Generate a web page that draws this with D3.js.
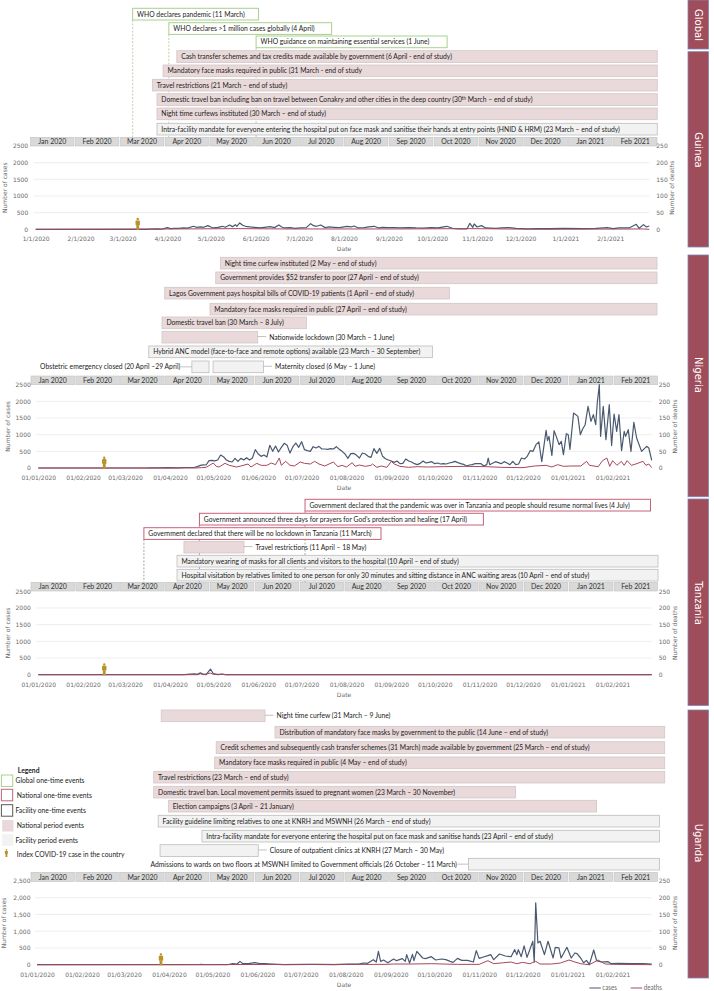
<!DOCTYPE html>
<html><head><meta charset="utf-8">
<script src="https://cdnjs.cloudflare.com/ajax/libs/d3/7.8.5/d3.min.js"></script>
<style>html,body{margin:0;padding:0;background:#fff}svg{display:block}</style>
</head><body><svg id="c" width="714" height="991"></svg>
<script>
const monthLabels=["Jan 2020","Feb 2020","Mar 2020","Apr 2020","May 2020","Jun 2020","Jul 2020","Aug 2020","Sep 2020","Oct 2020","Nov 2020","Dec 2020","Jan 2021","Feb 2021"];
const caseTicks=[0,500,1000,1500,2000,2500];
const deathTicks=[0,50,100,150,200,250];
const sideLabels=["Global","Guinea","Nigeria","Tanzania","Uganda"];
// series: [day since 1 Jan 2020, value]
const guineaCases=[[0,0],[76,0],[80,5],[84,10],[86,5],[88,15],[91,50],[93,20],[96,30],[99,25],[102,40],[105,35],[109,90],[111,60],[114,70],[116,60],[119,110],[121,70],[123,40],[126,60],[129,90],[131,60],[134,130],[136,80],[138,140],[139,90],[141,190],[143,120],[145,90],[148,70],[151,60],[155,40],[158,60],[162,80],[165,50],[168,130],[170,70],[172,40],[176,50],[179,30],[183,40],[187,50],[190,170],[192,110],[194,90],[197,130],[200,50],[203,70],[206,60],[210,50],[215,90],[218,70],[220,100],[223,40],[227,50],[230,70],[234,90],[237,40],[240,60],[243,50],[247,50],[252,40],[258,50],[263,40],[268,35],[273,50],[278,45],[284,90],[288,30],[292,10],[298,10],[300,180],[302,60],[303,160],[305,70],[308,110],[311,40],[318,30],[322,40],[327,50],[332,30],[340,10],[347,20],[355,20],[365,25],[378,20],[387,30],[395,50],[399,20],[403,40],[410,40],[415,150],[417,30],[420,140],[422,70],[424,100]];
const guineaDeaths=[[0,0],[100,1],[140,2],[175,1],[210,1],[250,1],[300,2],[350,0],[420,1],[424,0]];
const nigeriaCases=[[0,0],[74,0],[78,5],[84,5],[90,10],[96,5],[102,15],[108,20],[110,40],[112,80],[114,95],[116,90],[118,220],[120,230],[122,215],[124,240],[126,390],[128,340],[130,240],[132,200],[134,180],[136,290],[138,200],[140,290],[142,240],[144,310],[146,240],[148,300],[150,550],[152,420],[154,350],[156,390],[158,330],[160,680],[162,500],[164,660],[166,480],[168,620],[170,740],[172,680],[174,450],[176,640],[178,750],[180,620],[182,790],[184,550],[186,520],[188,500],[190,640],[192,600],[194,650],[196,570],[198,570],[200,560],[202,580],[204,570],[206,640],[208,560],[210,500],[212,420],[214,290],[216,430],[218,440],[220,380],[222,300],[224,450],[226,420],[228,350],[230,320],[232,580],[234,440],[236,590],[238,350],[240,280],[242,240],[244,210],[246,170],[248,210],[250,130],[252,140],[254,270],[256,210],[258,180],[260,130],[262,100],[264,140],[266,210],[268,150],[270,170],[272,190],[274,130],[276,150],[278,120],[280,130],[282,120],[284,150],[286,170],[288,200],[290,160],[292,130],[294,110],[296,60],[298,90],[300,100],[302,130],[304,130],[306,130],[308,60],[310,100],[311,300],[312,100],[316,190],[318,160],[320,130],[322,190],[324,150],[326,100],[328,200],[330,100],[332,120],[334,300],[336,270],[338,350],[340,520],[342,500],[344,700],[346,780],[348,190],[351,1130],[352,820],[353,950],[355,380],[356.5,1120],[358,950],[360,700],[361.5,800],[363,400],[365,1030],[366.3,1000],[367.5,560],[370,1650],[373,1550],[374.7,1000],[376,1150],[378,1300],[380,1850],[382,1400],[383.7,1600],[385.3,1300],[386.4,1950],[387.8,2500],[388.7,950],[390.5,1850],[392.4,850],[394.7,1900],[396.3,680],[398,1620],[399.8,1100],[401.4,1600],[403.2,520],[405,1100],[406,950],[407.8,1150],[409.7,500],[411.7,1370],[413.6,900],[417,500],[420.5,650],[422,600],[424,230]];
const nigeriaDeaths=[[0,0],[108,0],[113,1],[116,2],[121,15],[123,5],[125,3],[129,14],[132,8],[137,3],[140,6],[145,12],[147,3],[151,14],[154,8],[158,8],[161,15],[164,10],[166.6,30],[168,8],[171,20],[174,8],[177,6],[181,18],[184,14],[188,12],[191,20],[194,12],[198,6],[204,18],[207,4],[210,8],[213,3],[217,16],[219,5],[222,9],[226,5],[230,8],[231,12],[234,2],[237,6],[241,2],[244,20],[246,12],[250,5],[256,2],[262,4],[269,3],[280,4],[295,5],[310,4],[320,2],[335,1],[343,6],[351,8],[355,3],[359,10],[363,5],[368,6],[375,6],[379,20],[381,8],[387,4],[390,22],[393,30],[395,5],[397,22],[400,8],[403,20],[405,8],[407,22],[410,8],[413,12],[418,20],[420,8],[422,12],[424,1]];
const tanzaniaCases=[[0,0],[100,0],[101,5],[105,15],[108,25],[110,10],[112,55],[114,15],[116,5],[119,170],[121,30],[124,0],[127,20],[129,0],[424,0]];
const tanzaniaDeaths=[[0,0],[110,0],[112,3],[114,0],[119,5],[121,1],[128,1],[130,0],[424,0]];
const ugandaCases=[[0,0],[112,0],[113,10],[115,0],[132,5],[135,30],[138,20],[140,100],[142,30],[146,30],[150,60],[153,40],[157,30],[162,20],[170,5],[190,8],[205,5],[215,15],[222,20],[225,50],[228,40],[232,150],[234,80],[235.5,400],[237,100],[239,140],[242,60],[246,170],[248,120],[252,180],[254,100],[255,300],[257,50],[259,310],[260,120],[262,400],[266,200],[268,180],[272,240],[275,140],[279,170],[282,150],[285,100],[287,70],[290,190],[293,130],[297,130],[301,80],[303,420],[305,190],[308,230],[311,270],[313,300],[315,150],[319,320],[323,260],[327,240],[329.5,450],[331,300],[332,450],[334,240],[336,560],[338,220],[342,700],[343,80],[344,1850],[345.5,650],[347,700],[350,300],[352.5,700],[356,200],[357.5,520],[360,500],[361.5,200],[365.5,520],[368.5,200],[371,350],[372.5,330],[375,200],[377,60],[379,130],[381,0],[384,440],[386,120],[389,80],[394,90],[396,30],[401,40],[410,30],[418,35],[424,15]];
const ugandaDeaths=[[0,0],[240,1],[246,2],[258,2],[272,3],[290,1],[305,1],[311,12],[315,3],[322,6],[327,8],[331,3],[335,7],[340,3],[344,10],[347,2],[355,2],[361,5],[367,14],[371,8],[375,3],[381,0],[387,14],[392,2],[400,1],[424,0]];
const indexCaseDay={guinea:70.5,nigeria:45.6,tanzania:45.6,uganda:85.5};

const guineaLabels=["WHO declares pandemic (11 March)","WHO declares >1 million cases globally (4 April)","WHO guidance on maintaining essential services (1 June)","Cash transfer schemes and tax credits made available by government (6 April - end of study)","Mandatory face masks required in public (31 March - end of study","Travel restrictions (21 March – end of study)","Domestic travel ban including ban on travel between Conakry and other cities in the deep country (30^th^ March – end of study)","Night time curfews instituted (30 March – end of study)","Intra-facility mandate for everyone entering the hospital put on face mask and sanitise their hands at entry points (HNID & HRM) (23 March – end of study)"];
const guineaStarts=[67,92,152.3,97.5,88,80.7,83.8,83.8,83.8];
const guineaEnds=[154,204.5,284.3,429.5,429.5,429.5,429.5,429.5,429.5];
const guineaKinds=["global","global","global","national","national","national","national","national","facility"];
const guineaTops=[8.3,22.7,36,50.7,65,79.3,93.7,108,123.3];

const nigeriaLabels=["Night time curfew instituted (2 May – end of study)","Government provides $52  transfer to poor (27 April – end of study)","Lagos Government pays hospital bills of COVID-19 patients (1 April – end of study)","Mandatory face masks required in public (27 April – end of study)","Domestic travel ban (30 March – 8 July)","Nationwide lockdown (30 March – 1 June)","Hybrid ANC model (face-to-face and remote options) available (23 March – 30 September)","Obstetric emergency closed (20 April –29 April)","Maternity closed (6 May – 1 June)"];
const nigeriaStarts=[125.9,122.7,87.4,118.7,85.5,85.5,76.4,106.2,120.8];
const nigeriaEnds=[427.7,427.7,284.2,427.7,185.3,151.7,272.5,118,155.7];
const nigeriaKinds=["national","national","national","national","national","national","facility","facility","facility"];
const nigeriaTops=[257.3,272,287.3,303.3,317,331.3,346,361,361];
const nigeriaPlace=["in","in","in","in","in","right","in","left","right"];

const tanzaniaLabels=["Government declared that the pandemic was over in Tanzania and people should resume normal lives (4 July)","Government announced three days for prayers for God’s protection and healing (17 April)","Government declared that there will be no lockdown in Tanzania (11 March)","Travel restrictions (11 April – 18 May)","Mandatory wearing of masks for all clients and visitors to the hospital  (10 April – end of study)","Hospital visitation by relatives limited to one person for only 30 minutes and sitting distance in ANC waiting areas (10 April – end of study)"];
const tanzaniaStarts=[184.4,111.4,73,100.7,95.9,95.9];
const tanzaniaEnds=[423.2,307.7,236.9,142.2,428.4,428.4];
const tanzaniaKinds=["nationalOne","nationalOne","nationalOne","national","facility","facility"];
const tanzaniaTops=[499.3,513.3,527.7,541.3,555.3,569.3];
const tanzaniaPlace=["in","in","in","right","in","in"];

const ugandaLabels=["Night time curfew  (31 March – 9 June)","Distribution of mandatory face masks by government to the public (14 June – end of study)","Credit schemes and subsequently cash transfer schemes (31 March) made available by government (25 March – end of study)","Mandatory face masks required in public (4 May – end of study)","Travel restrictions (23 March – end of study)","Domestic travel ban. Local movement permits issued to pregnant women (23 March – 30 November)","Election campaigns (3 April – 21 January)","Facility guideline limiting relatives to one at KNRH and MSWNH (26 March – end of study)","Intra-facility mandate for everyone entering the hospital put on face mask and sanitise hands (23 April – end of study)","Closure of outpatient clinics at KNRH (27 March – 30 May)","Admissions to wards on two floors at MSWNH limited to Government officials (26 October – 11 March)"];
const ugandaStarts=[85.7,164.2,123.6,122.6,80.5,80.5,90.6,83.6,113.8,84.9,297.6];
const ugandaEnds=[157.3,433,433,433,433,330,386,429.3,429.3,152.6,429.3];
const ugandaKinds=["national","national","national","national","national","national","national","facility","facility","facility","facility"];
const ugandaTops=[710,726.3,741.7,757,771.3,786.3,800.3,815.3,830.3,844.7,858.3];
const ugandaPlace=["right","in","in","in","in","in","in","in","in","right","left"];

const legendLabels=["Global one-time events","National one-time events","Facility one-time events","National period events","Facility period events","Index COVID-19 case in the country"];
const legendKinds=["global","nationalOne","facilityOne","national","facility","index"];

// ---- styling & layout
const NARROW='Lato,"Liberation Sans",sans-serif', WIDE='"DejaVu Sans",sans-serif', SQUEEZE=0.89;
const C={cases:"#4a5970",deaths:"#a5485a",grid:"#eaeaea",tick:"#6a6a6a",gold:"#b8932a",panel:"#9f4c5b",panelEdge:"#7f86b5"};
const boxStyle={
 global:{fill:"#fff",stroke:"#a9d18e",sw:1},
 nationalOne:{fill:"#fff",stroke:"#c8607a",sw:1},
 facilityOne:{fill:"#fff",stroke:"#595959",sw:1},
 national:{fill:"#e9d9da",stroke:"#d2c6c7",sw:.8},
 facility:{fill:"#f2f2f2",stroke:"#bdbdbd",sw:.8}};
const dashColor={global:"#a9b98f",nationalOne:"#7f7f7f"};
const BOX_H=11.7;
const day=i=>new Date(Date.UTC(2020,0,1+Math.floor(i),24*(i%1)));
const svg=d3.select("#c");
svg.append("rect").attr("width",714).attr("height",991).attr("fill","#fff");

function narrow(g,tx,ty,size,fill){
  return g.append("text").attr("transform",`translate(${tx},${ty}) scale(${SQUEEZE},1)`)
    .attr("font-family",NARROW).attr("font-size",size).attr("fill",fill);
}
function person(g,s){
  const p=g.append("g").attr("fill",C.gold).attr("transform",`scale(${s})`);
  p.append("circle").attr("cx",0).attr("cy",-10.8).attr("r",1.2);
  p.append("rect").attr("x",-2.2).attr("y",-9.4).attr("width",4.4).attr("height",5).attr("rx",.8);
  p.append("rect").attr("x",-1.4).attr("y",-4.6).attr("width",2.8).attr("height",4.6);
}
function withSup(t,label){
  label.split("^").forEach((part,i)=>{
    const ts=t.append("tspan").text(part);
    if(i%2){ts.attr("dy",-2).attr("font-size",5);} else if(i>0){ts.attr("dy",2);}
  });
}
const line=(x,y)=>d3.line().x(d=>x(day(d[0]))).y(d=>y(d[1]));

function panel(o){
  const x=d3.scaleUtc().domain([day(0),day(424)]).range([o.x0,o.x1]);
  const y=d3.scaleLinear().domain([0,2500]).range([o.yZero,o.yTop]);
  const y2=d3.scaleLinear().domain([0,250]).range([o.yZero,o.yTop]);
  const g=svg.append("g");
  // dashed drop lines
  o.kinds.forEach((k,i)=>{
    if(dashColor[k]) g.append("line").attr("x1",x(day(o.starts[i]))).attr("x2",x(day(o.starts[i])))
      .attr("y1",o.tops[i]+BOX_H).attr("y2",o.barTop).attr("stroke",dashColor[k]).attr("stroke-width",.7).attr("stroke-dasharray","2,1.5");
  });
  // event boxes
  o.labels.forEach((lab,i)=>{
    const st=boxStyle[o.kinds[i]], xa=x(day(o.starts[i])), xb=x(day(o.ends[i])), top=o.tops[i], mid=top+BOX_H/2, place=(o.place||[])[i]||"in";
    g.append("rect").attr("x",xa).attr("y",top).attr("width",xb-xa).attr("height",BOX_H)
      .attr("fill",st.fill).attr("stroke",st.stroke).attr("stroke-width",st.sw);
    let t;
    if(place==="in"){t=narrow(g,xa+4.4,mid+2.6,7.6,"#222");}
    else if(place==="right"){t=narrow(g,xb+11.5,mid+2.6,7.6,"#222");
      g.append("line").attr("x1",xb).attr("x2",xb+8.5).attr("y1",mid-.6).attr("y2",mid-.6).attr("stroke","#a6a6a6").attr("stroke-width",.7);}
    else {t=narrow(g,xa-11.5,mid+2.6,7.6,"#222").attr("text-anchor","end");
      g.append("line").attr("x1",xa-11).attr("x2",xa).attr("y1",mid).attr("y2",mid).attr("stroke","#a6a6a6").attr("stroke-width",.7);}
    withSup(t,lab);
  });
  // month ribbon
  const band=d3.scaleBand().domain(monthLabels).range([o.barL,o.barR]).paddingInner(.03);
  g.selectAll(null).data(monthLabels).join("rect").attr("x",d=>band(d)).attr("y",o.barTop).attr("width",band.bandwidth()).attr("height",o.barH)
    .attr("fill","#d9d9d9").attr("stroke","#c4c4c4").attr("stroke-width",.6);
  monthLabels.forEach(d=>narrow(g,band(d)+band.bandwidth()/2,o.barTop+o.barH/2+2.7,7.8,"#333").attr("text-anchor","middle").text(d));
  // grid
  g.selectAll(null).data(caseTicks.slice(1,-1)).join("line").attr("x1",o.x0-2).attr("x2",o.x1).attr("y1",d=>y(d)).attr("y2",d=>y(d)).attr("stroke",C.grid).attr("stroke-width",.8);
  // axes
  const styleAxis=a=>{a.select(".domain").remove();a.selectAll("line").remove();a.selectAll("text").attr("font-family",WIDE).attr("font-size",6).attr("fill",C.tick);};
  g.append("g").attr("transform",`translate(${o.x0},0)`).call(d3.axisLeft(y).tickValues(caseTicks).tickSize(0).tickPadding(o.padL).tickFormat(o.yFmt)).call(styleAxis);
  g.append("g").attr("transform",`translate(${o.x1},0)`).call(d3.axisRight(y2).tickValues(deathTicks).tickSize(0).tickPadding(7)).call(styleAxis);
  g.append("g").attr("transform",`translate(0,${o.yZero})`).call(d3.axisBottom(x).tickValues(d3.utcMonth.range(day(0),day(424))).tickSize(0).tickPadding(7.8).tickFormat(d3.utcFormat(o.dateFmt))).call(styleAxis);
  const title=(tx,ty,txt,rot)=>g.append("text").attr("transform",`translate(${tx},${ty})`+(rot?" rotate(-90)":"")).attr("text-anchor","middle").attr("font-family",WIDE).attr("font-size",6).attr("fill",C.tick).text(txt);
  title(o.titleL,(o.yZero+o.yTop)/2,"Number of cases",true);
  title(o.titleR,(o.yZero+o.yTop)/2,"Number of deaths",true);
  title(344,o.yZero+22,"Date",false);
  // series
  g.append("path").datum(o.cases).attr("d",line(x,y)).attr("fill","none").attr("stroke",C.cases).attr("stroke-width",1.2).attr("stroke-linejoin","round");
  g.append("path").datum(o.deaths).attr("d",line(x,y2)).attr("fill","none").attr("stroke",C.deaths).attr("stroke-width",1).attr("stroke-linejoin","round");
  // index case
  const ic=g.append("g").attr("transform",`translate(${x(day(o.index))},${o.yZero+.5})`);
  person(ic,1);
}

panel({x0:35.7,x1:649.3,yTop:146,yZero:229.3,barTop:137.3,barH:8.7,barL:30.5,barR:657,titleL:7,titleR:674,padL:7.5,yFmt:d3.format("d"),dateFmt:"%-m/%-d/%Y",
  labels:guineaLabels,starts:guineaStarts,ends:guineaEnds,kinds:guineaKinds,tops:guineaTops,cases:guineaCases,deaths:guineaDeaths,index:indexCaseDay.guinea});
panel({x0:38.3,x1:651.7,yTop:384.7,yZero:468,barTop:376,barH:8.7,barL:31,barR:657.5,titleL:9.7,titleR:676.7,padL:7.5,yFmt:d3.format("d"),dateFmt:"%d/%m/%Y",
  labels:nigeriaLabels,starts:nigeriaStarts,ends:nigeriaEnds,kinds:nigeriaKinds,tops:nigeriaTops,place:nigeriaPlace,cases:nigeriaCases,deaths:nigeriaDeaths,index:indexCaseDay.nigeria});
panel({x0:38.3,x1:651.7,yTop:591.3,yZero:674.7,barTop:582.3,barH:8.7,barL:31,barR:657.5,titleL:9.7,titleR:676.7,padL:7.5,yFmt:d3.format("d"),dateFmt:"%d/%m/%Y",
  labels:tanzaniaLabels,starts:tanzaniaStarts,ends:tanzaniaEnds,kinds:tanzaniaKinds,tops:tanzaniaTops,place:tanzaniaPlace,cases:tanzaniaCases,deaths:tanzaniaDeaths,index:indexCaseDay.tanzania});
panel({x0:37,x1:651.7,yTop:881,yZero:964.7,barTop:872.3,barH:9.2,barL:31,barR:657.5,titleL:6,titleR:677,padL:6.5,yFmt:d3.format(","),dateFmt:"%d/%m/%Y",
  labels:ugandaLabels,starts:ugandaStarts,ends:ugandaEnds,kinds:ugandaKinds,tops:ugandaTops,place:ugandaPlace,cases:ugandaCases,deaths:ugandaDeaths,index:indexCaseDay.uganda});

// side panels
const sideY=d3.scaleOrdinal().domain(sideLabels).range([[0,49],[51.7,247],[255,496.7],[499,705.5],[710,978]]);
const sideMid=d3.scaleOrdinal().domain(sideLabels).range([25,150,375,603,843]);
sideLabels.forEach(s=>{
  const [a,b]=sideY(s);
  svg.append("rect").attr("x",688).attr("y",a).attr("width",20.5).attr("height",b-a).attr("fill",C.panel).attr("stroke",C.panelEdge).attr("stroke-width",.8);
  svg.append("text").attr("transform",`translate(698.5,${sideMid(s)}) rotate(90)`).attr("text-anchor","middle").attr("dy",".35em")
    .attr("font-family",WIDE).attr("font-size",10).attr("fill","#fff").text(s);
});

// legend
narrow(svg,17.8,772.5,7.6,"#222").attr("font-weight","bold").text("Legend");
const legendTops=[775,789.3,804.7,820,834.3,849];
legendLabels.forEach((lab,i)=>{
  const k=legendKinds[i],top=legendTops[i];
  if(k==="index"){const ic=svg.append("g").attr("transform",`translate(6.4,${top+8})`);person(ic,.66);}
  else{const st=boxStyle[k],inset=k==="national"||k==="facility"?2.2:1.4;
    svg.append("rect").attr("x",inset).attr("y",top).attr("width",11.3).attr("height",11.5).attr("fill",st.fill).attr("stroke",k==="national"||k==="facility"?"none":st.stroke).attr("stroke-width",st.sw);}
  narrow(svg,i%2===0&&i<5?15.5:16.8,top+8.4,7.6,"#222").text(lab);
});
// series key
const keyItems=[["cases",C.cases,589.3],["deaths",C.deaths,630.7]];
keyItems.forEach(([t,c,kx])=>{
  svg.append("line").attr("x1",kx).attr("x2",kx+11.5).attr("y1",988).attr("y2",988).attr("stroke",c).attr("stroke-width",1);
  narrow(svg,kx+13,990,7,C.tick).text(t);
});
</script></body></html>
